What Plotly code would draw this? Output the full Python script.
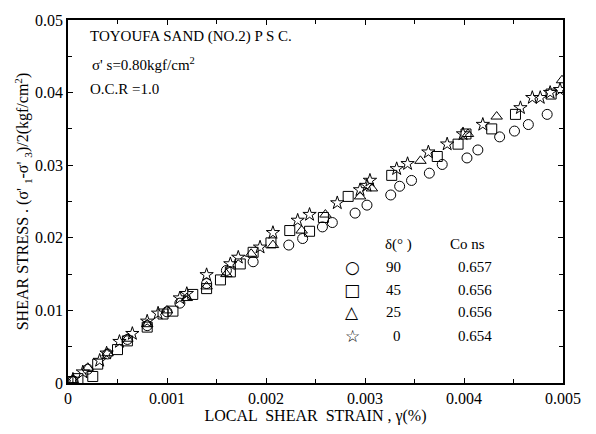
import plotly.graph_objects as go

# ---- data (strain in %, stress in kgf/cm2) ----
circ_x = [0.00005, 0.0002, 0.0004, 0.0006, 0.0008, 0.0010, 0.00113, 0.0014, 0.0016, 0.00187,
          0.00223, 0.00237, 0.00257, 0.00267, 0.00290, 0.00302, 0.00326, 0.00335, 0.00347,
          0.00365, 0.00378, 0.00403, 0.00414, 0.00436, 0.00451, 0.00465, 0.00484]
circ_y = [0.0003, 0.0019, 0.0040, 0.0060, 0.0079, 0.0098, 0.0110, 0.0137, 0.0155, 0.0167,
          0.0190, 0.0199, 0.0215, 0.0221, 0.0234, 0.0245, 0.0259, 0.0271, 0.0279,
          0.0289, 0.0301, 0.0310, 0.0321, 0.0339, 0.0347, 0.0356, 0.0370]

sq_x = [0.00003, 0.0001, 0.00025, 0.0003, 0.0005, 0.0006, 0.0008, 0.00096, 0.00106, 0.00126,
        0.0014, 0.00154, 0.00164, 0.00174, 0.00187, 0.00205, 0.00224, 0.00244, 0.00258,
        0.00283, 0.00327, 0.00373, 0.00394, 0.00402, 0.00428, 0.00452, 0.00488]
sq_y = [0.0002, 0.0006, 0.0009, 0.0026, 0.0046, 0.0058, 0.0077, 0.0095, 0.0099, 0.0122,
        0.0130, 0.0142, 0.0153, 0.0164, 0.0180, 0.0193, 0.0210, 0.0209, 0.0228,
        0.0257, 0.0286, 0.0312, 0.0329, 0.0343, 0.0350, 0.0370, 0.0398]

tri_x = [0.00005, 0.0002, 0.0004, 0.0006, 0.0008, 0.0010, 0.0012, 0.0014, 0.0016, 0.00185,
         0.00207, 0.00236, 0.00260, 0.00295, 0.00307, 0.00356, 0.00404, 0.00433, 0.00499]
tri_y = [0.0004, 0.0021, 0.0041, 0.0061, 0.0081, 0.0100, 0.0117, 0.0133, 0.0150, 0.0178,
         0.0190, 0.0210, 0.0232, 0.0257, 0.0268, 0.0306, 0.0343, 0.0367, 0.0417]

star_x = [0.00005, 0.00015, 0.00032, 0.00039, 0.00052, 0.00065, 0.0008, 0.00091, 0.00113,
          0.0012, 0.0014, 0.00164, 0.00172, 0.00194, 0.00207, 0.00232, 0.00244, 0.00272,
          0.00295, 0.00302, 0.00305, 0.00332, 0.00343, 0.00364, 0.00383, 0.00399, 0.00419,
          0.00457, 0.00469, 0.00477, 0.00487, 0.00497]
star_y = [0.0005, 0.0015, 0.0031, 0.0041, 0.0057, 0.0068, 0.0085, 0.0096, 0.0117,
          0.0123, 0.0149, 0.0164, 0.0173, 0.0187, 0.0207, 0.0224, 0.0232, 0.0248,
          0.0266, 0.0272, 0.0279, 0.0295, 0.0302, 0.0318, 0.0329, 0.0343, 0.0356,
          0.0379, 0.0393, 0.0393, 0.0400, 0.0404]

x_ticks = [0, 0.001, 0.002, 0.003, 0.004, 0.005]
x_labels = ["0", "0.001", "0.002", "0.003", "0.004", "0.005"]
y_ticks = [0, 0.01, 0.02, 0.03, 0.04, 0.05]
y_labels = ["0", "0.01", "0.02", "0.03", "0.04", "0.05"]

legend_sym = ["○", "□", "△", "☆"]
legend_delta = ["90", "45", "25", "0"]
legend_e = ["0.657", "0.656", "0.656", "0.654"]

FONT = "Liberation Serif"

fig = go.Figure()
for xs, ys, sym in [(circ_x, circ_y, "circle-open"), (sq_x, sq_y, "square-open"),
                    (tri_x, tri_y, "triangle-up-open"), (star_x, star_y, "star-open")]:
    fig.add_trace(go.Scatter(x=xs, y=ys, mode="markers", showlegend=False,
                             marker=dict(symbol=sym, size=10, color="black",
                                         line=dict(color="black", width=1))))

axis_common = dict(showgrid=False, zeroline=False, showline=True, linecolor="black",
                   linewidth=1.5, mirror="ticks", ticks="inside", ticklen=5,
                   tickcolor="black", tickfont=dict(family=FONT, size=16, color="black"))
fig.update_xaxes(range=[0, 0.005], tickvals=x_ticks, ticktext=x_labels,
                 minor=dict(ticks="inside", dtick=0.0005, ticklen=4, tickcolor="black"),
                 title=dict(text="LOCAL  SHEAR  STRAIN , γ(%)", standoff=2,
                            font=dict(family=FONT, size=16, color="black")),
                 **axis_common)
fig.update_yaxes(range=[0, 0.05], tickvals=y_ticks, ticktext=y_labels,
                 minor=dict(ticks="inside", dtick=0.005, ticklen=4, tickcolor="black"),
                 title=dict(text="SHEAR STRESS . (σ' <sub>1</sub>-σ' <sub>3</sub>)/2(kgf/cm<sup>2</sup>)",
                            standoff=2, font=dict(family=FONT, size=16, color="black")),
                 **axis_common)

ann = []
def txt(x, y, s, xanchor="left", size=15, family=FONT):
    ann.append(dict(x=x, y=y, xref="paper", yref="paper", text=s, showarrow=False,
                    xanchor=xanchor, yanchor="middle",
                    font=dict(family=family, size=size, color="black")))

txt(0.040, 0.955, "TOYOUFA SAND (NO.2) P S C.")
txt(0.044, 0.880, "σ' s=0.80kgf/cm<sup>2</sup>")
txt(0.040, 0.810, "O.C.R =1.0")

txt(0.667, 0.382, "δ(° )", xanchor="center")
txt(0.808, 0.382, "Co ns", xanchor="center")
rows_y = [0.320, 0.255, 0.195, 0.130]
for i in range(4):
    txt(0.574, rows_y[i], legend_sym[i], xanchor="center", size=17, family="DejaVu Sans")
    txt(0.676, rows_y[i], legend_delta[i], xanchor="right")
    txt(0.822, rows_y[i], legend_e[i], xanchor="center")

fig.update_layout(width=596, height=434, margin=dict(l=68, r=33, t=14, b=51),
                  paper_bgcolor="white", plot_bgcolor="white", annotations=ann)
fig.write_html("out.html")
